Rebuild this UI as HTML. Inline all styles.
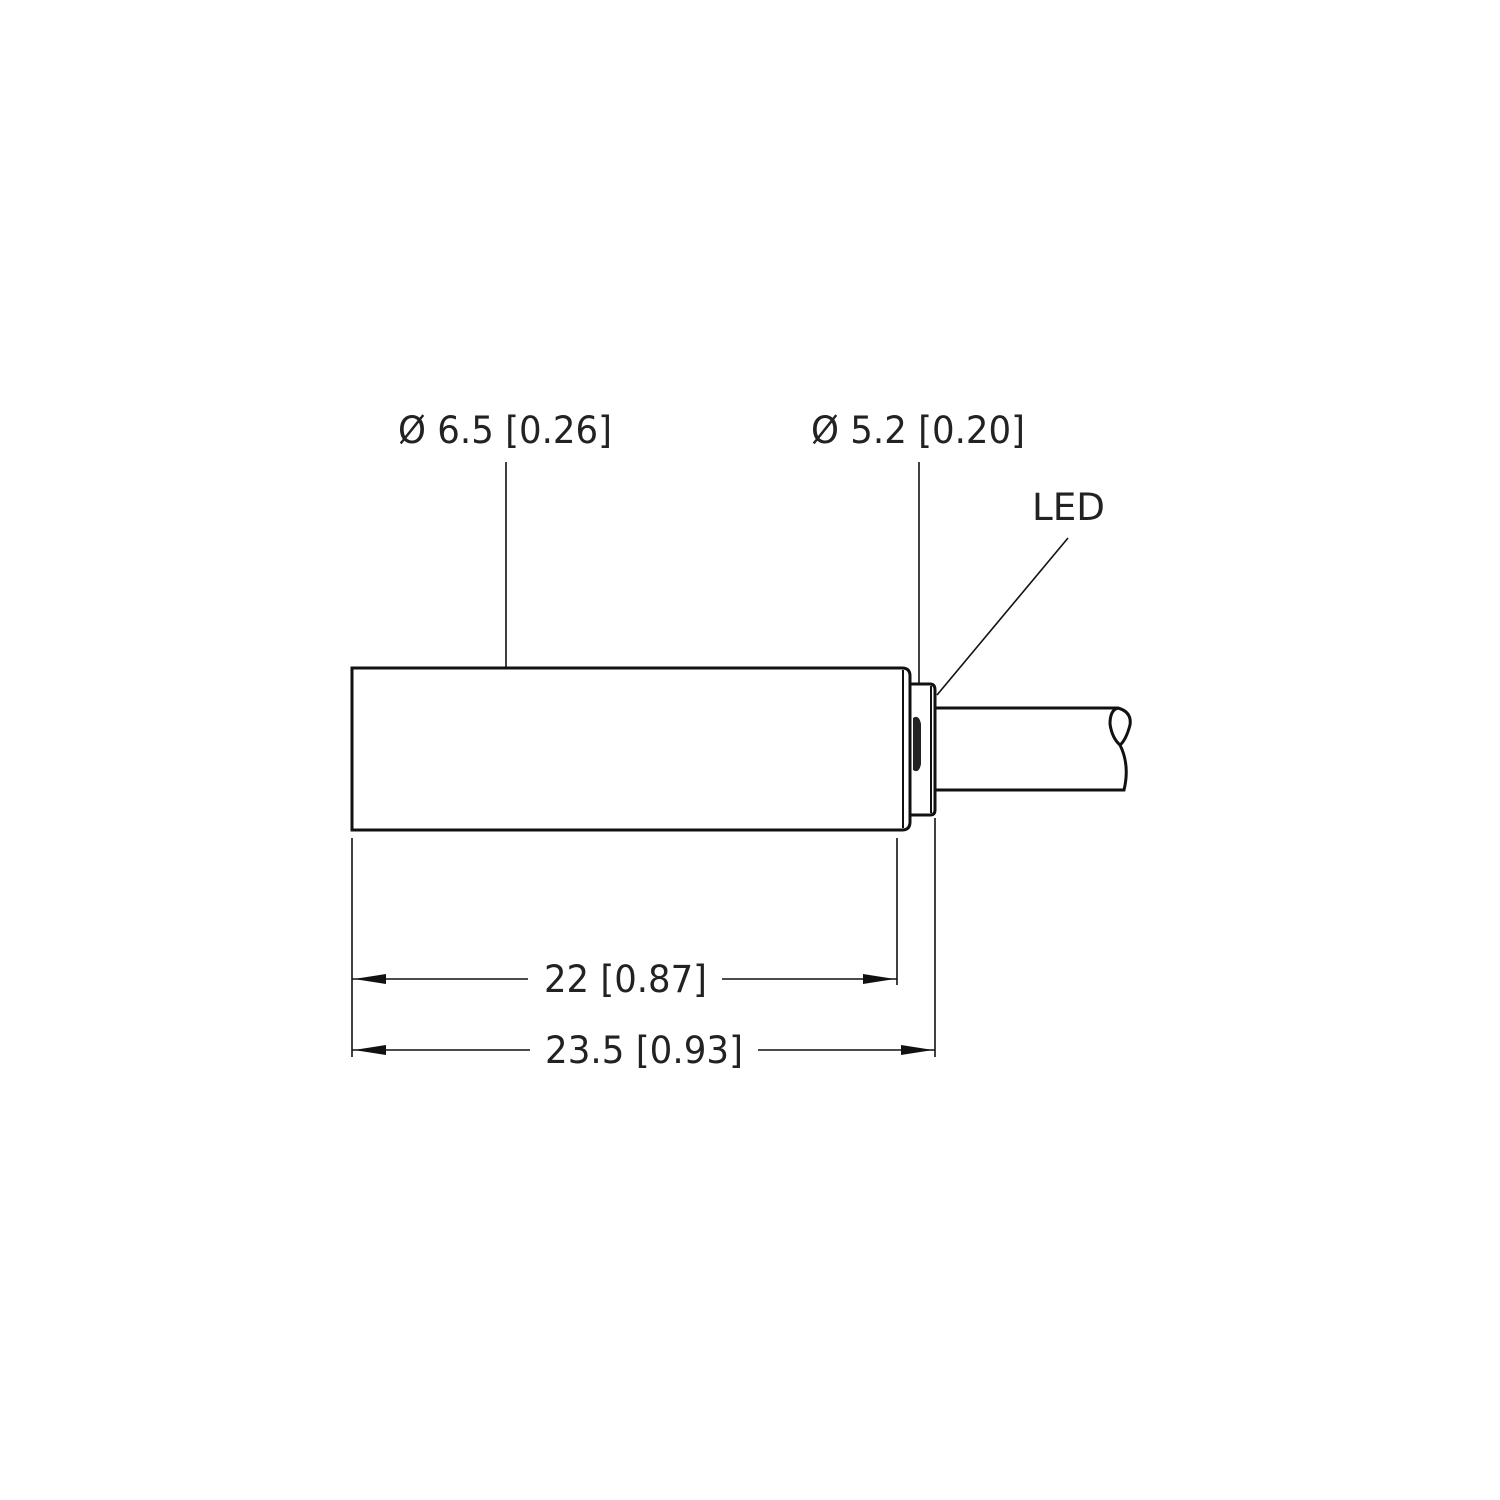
<!DOCTYPE html>
<html><head><style>body{margin:0;background:#fff}svg{display:block}</style></head>
<body>
<svg width="1500" height="1500" viewBox="0 0 1500 1500" xmlns="http://www.w3.org/2000/svg">
<rect width="1500" height="1500" fill="#fff"/>
<g fill="none" stroke="#111" stroke-width="3">
<path d="M352 668 H902 Q910 668 910 676 V822 Q910 830 902 830 H352 Z"/>
<line x1="903" y1="670" x2="903" y2="828" stroke-width="2"/>
<path d="M911 684 H930 Q935 684 935 690 V810 Q935 815 930 815 H911"/>
<line x1="931" y1="686" x2="931" y2="813" stroke-width="2"/>
<path d="M935 708 H1118 Q1132 712 1130 725 Q1126 740 1120 745 Q1112 738 1110 724 Q1110 710 1118 708"/>
<path d="M1120 745 Q1130 765 1124 790 H935"/>
</g>
<path d="M913 718 q6 -4 8 6 v40 q-2 10 -8 6 z" fill="#222"/>
<g stroke="#111" stroke-width="1.6" fill="none">
<line x1="506" y1="462" x2="506" y2="668"/>
<line x1="919" y1="462" x2="919" y2="684"/>
<line x1="1068" y1="538" x2="937" y2="695"/>
<line x1="352" y1="838" x2="352" y2="1057"/>
<line x1="897" y1="838" x2="897" y2="985"/>
<line x1="935" y1="818" x2="935" y2="1057"/>
<line x1="352" y1="979" x2="528" y2="979"/>
<line x1="722" y1="979" x2="897" y2="979"/>
<line x1="352" y1="1050" x2="530" y2="1050"/>
<line x1="758" y1="1050" x2="935" y2="1050"/>
</g>
<g fill="#111">
<path d="M354 979 L386 974 L386 984 Z"/>
<path d="M895 979 L863 974 L863 984 Z"/>
<path d="M354 1050 L386 1045 L386 1055 Z"/>
<path d="M933 1050 L901 1045 L901 1055 Z"/>
</g>
<g font-family="'DejaVu Sans','Liberation Sans',sans-serif" font-size="37" fill="#222">
<text x="398" y="443" textLength="214" lengthAdjust="spacingAndGlyphs">Ø 6.5 [0.26]</text>
<text x="811" y="443" textLength="214" lengthAdjust="spacingAndGlyphs">Ø 5.2 [0.20]</text>
<text x="1032" y="520" textLength="73" lengthAdjust="spacingAndGlyphs">LED</text>
<text x="544" y="992" textLength="163" lengthAdjust="spacingAndGlyphs">22 [0.87]</text>
<text x="545" y="1063" textLength="198" lengthAdjust="spacingAndGlyphs">23.5 [0.93]</text>
</g>
</svg>
</body></html>
